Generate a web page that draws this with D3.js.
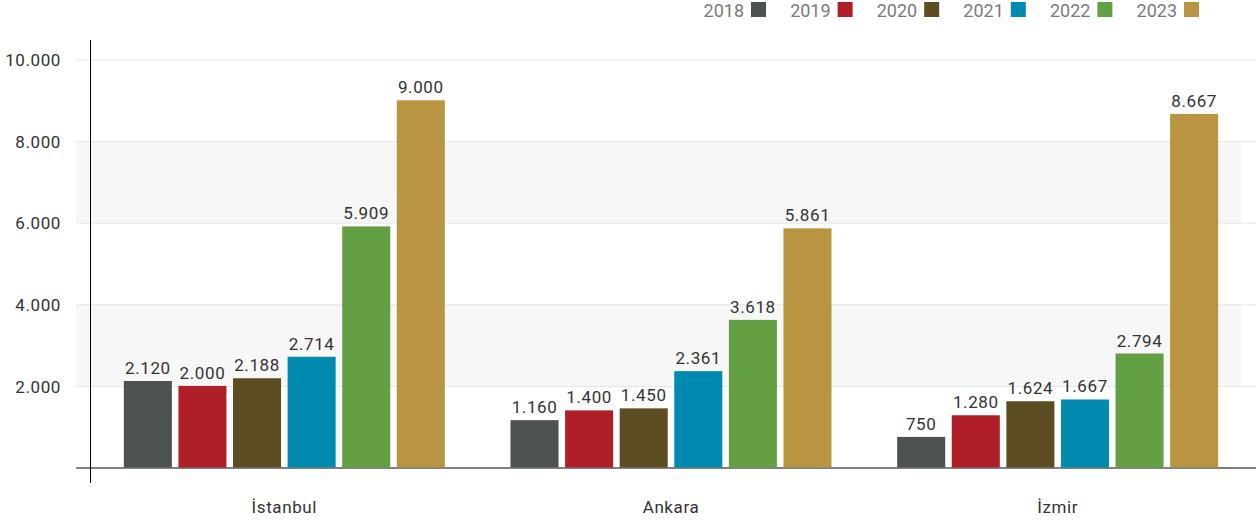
<!DOCTYPE html>
<html>
<head>
<meta charset="utf-8">
<script src="https://cdn.jsdelivr.net/npm/d3@7"></script>
<style>
  html, body { margin: 0; padding: 0; background: #fff; }
  svg { display: block; font-family: Roboto, "DejaVu Sans", sans-serif; }
</style>
</head>
<body>
<svg id="chart" width="1256" height="522"></svg>
<script>
// Cities on the x axis and the yearly series
const cities = ["İstanbul", "Ankara", "İzmir"];
const years = ["2018", "2019", "2020", "2021", "2022", "2023"];
const colors = ["#4d5152", "#b01f27", "#5c4e22", "#008aaf", "#62a043", "#b99542"];
const v2018 = [2120, 1160, 750];
const v2019 = [2000, 1400, 1280];
const v2020 = [2188, 1450, 1624];
const v2021 = [2714, 2361, 1667];
const v2022 = [5909, 3618, 2794];
const v2023 = [9000, 5861, 8667];
const yTicks = [2000, 4000, 6000, 8000, 10000];

const seriesValues = [v2018, v2019, v2020, v2021, v2022, v2023];
const fmt = v => d3.format(",")(v).replace(/,/g, ".");

const svg = d3.select("#chart");

const y = d3.scaleLinear().domain([0, 10000]).range([467.5, 59.5]);
const x0 = d3.scaleBand().domain(cities).range([91, 1251]);
const x1 = d3.scaleBand().domain(years).range([-160.5, 160.5]).paddingInner(0.12).paddingOuter(0);
const color = d3.scaleOrdinal().domain(years).range(colors);

const gridLeft = 76, gridRight = 1256, bandRight = 1241;

// Alternating shaded bands
const bandPairs = [[2000, 4000], [6000, 8000]];
svg.append("g").selectAll("rect").data(bandPairs).join("rect")
  .attr("x", gridLeft)
  .attr("width", bandRight - gridLeft)
  .attr("y", d => y(d[1]))
  .attr("height", d => y(d[0]) - y(d[1]))
  .attr("fill", "#f7f7f7");

// Horizontal gridlines with value labels
const yAxis = d3.axisLeft(y).tickValues(yTicks).tickFormat(fmt)
  .tickSize(-(gridRight - gridLeft)).tickPadding(15);
const gy = svg.append("g").attr("transform", `translate(${gridLeft},0)`).call(yAxis);
gy.select(".domain").remove();
gy.selectAll(".tick line").attr("stroke", "#e6e6e6").attr("stroke-width", 1);
gy.selectAll(".tick text")
  .attr("fill", "#333").attr("font-size", 17).attr("letter-spacing", 0.6)
  .attr("font-family", "Roboto, sans-serif").attr("dy", "0.36em");

// Baseline
svg.append("line")
  .attr("x1", gridLeft).attr("x2", gridRight)
  .attr("y1", y(0) + 0.5).attr("y2", y(0) + 0.5)
  .attr("stroke", "#808080").attr("stroke-width", 2);

// Vertical axis line
svg.append("line")
  .attr("x1", 90.5).attr("x2", 90.5)
  .attr("y1", 40).attr("y2", 483)
  .attr("stroke", "#000").attr("stroke-width", 1);

// Bars and value labels
const groups = svg.append("g").selectAll("g").data(cities).join("g")
  .attr("transform", d => `translate(${x0(d) + x0.bandwidth() / 2},0)`);

groups.each(function(city, ci) {
  const g = d3.select(this);
  const rows = years.map((yr, si) => ({ year: yr, value: seriesValues[si][ci] }));
  g.selectAll("rect").data(rows).join("rect")
    .attr("x", d => x1(d.year))
    .attr("width", x1.bandwidth())
    .attr("y", d => y(d.value))
    .attr("height", d => y(0) - y(d.value))
    .attr("fill", d => color(d.year));
  g.selectAll("text").data(rows).join("text")
    .attr("x", d => x1(d.year) + x1.bandwidth() / 2)
    .attr("y", d => y(d.value) - 7)
    .attr("text-anchor", "middle")
    .attr("font-size", 17).attr("letter-spacing", 0.6)
    .attr("fill", "#333")
    .text(d => fmt(d.value));
});

// Category labels
const xAxis = d3.axisBottom(x0).tickSize(0).tickPadding(0);
const gx = svg.append("g").attr("transform", `translate(0,${y(0)})`).call(xAxis);
gx.select(".domain").remove();
gx.selectAll(".tick text")
  .attr("y", 45).attr("dy", 0)
  .attr("fill", "#333").attr("font-size", 17).attr("letter-spacing", 0.6)
  .attr("font-family", "Roboto, sans-serif");

// Legend: year text followed by a colour square
const legendX = d3.scalePoint().domain(years).range([751, 1184]);
const legend = svg.append("g").selectAll("g").data(years).join("g")
  .attr("transform", d => `translate(${legendX(d)},0)`);
legend.append("rect")
  .attr("x", 0).attr("y", 2).attr("width", 15).attr("height", 15)
  .attr("fill", d => color(d));
legend.append("text")
  .attr("x", -7).attr("y", 17)
  .attr("text-anchor", "end")
  .attr("font-size", 18)
  .attr("fill", "#7a7a7a")
  .text(d => d);
</script>
</body>
</html>
